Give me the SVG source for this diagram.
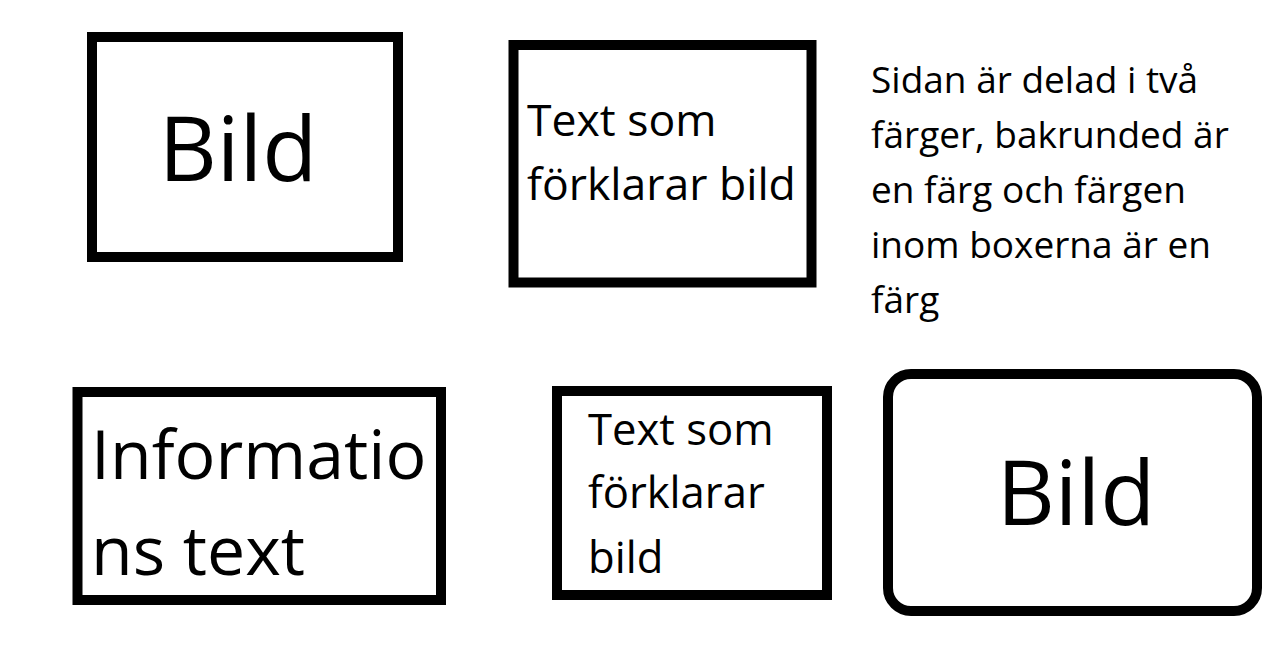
<svg xmlns="http://www.w3.org/2000/svg" width="1284" height="648" viewBox="0 0 1284 648">
<style>
.box{fill:#ffffff;stroke:#000000;stroke-width:10}
.t{font-family:"Open Sans","Noto Sans","Liberation Sans",sans-serif;fill:#000000}
</style>
<rect width="1284" height="648" fill="#ffffff"/>
<g id="bild1">
<rect class="box" x="92" y="37" width="306" height="220"/>
<text class="t" x="238" y="181" font-size="90" text-anchor="middle">Bild</text>
</g>
<g id="text1">
<rect class="box" x="513.5" y="45" width="298" height="237.5"/>
<text class="t" font-size="44.5"><tspan x="527" y="136">Text som</tspan><tspan x="527" y="200">förklarar bild</tspan></text>
</g>
<g id="info">
<rect class="box" x="77.5" y="392" width="363.5" height="208"/>
<text class="t" font-size="68"><tspan x="91" y="479">Informatio</tspan><tspan x="91" y="575">ns text</tspan></text>
</g>
<g id="text2">
<rect class="box" x="557" y="391" width="270" height="204"/>
<text class="t" font-size="43.6"><tspan x="588" y="445">Text som</tspan><tspan x="588" y="508">förklarar</tspan><tspan x="588" y="573">bild</tspan></text>
</g>
<g id="bild2">
<rect class="box" x="888" y="374" width="369" height="237" rx="23" ry="23"/>
<text class="t" x="1076" y="525" font-size="90" text-anchor="middle">Bild</text>
</g>
<g id="note">
<text class="t" font-size="37"><tspan x="871" y="93">Sidan är delad i två</tspan><tspan x="871" y="148">färger, bakrunded är</tspan><tspan x="871" y="203">en färg och färgen</tspan><tspan x="871" y="258">inom boxerna är en</tspan><tspan x="871" y="313">färg</tspan></text>
</g>
<g id="connectors"></g>
</svg>
